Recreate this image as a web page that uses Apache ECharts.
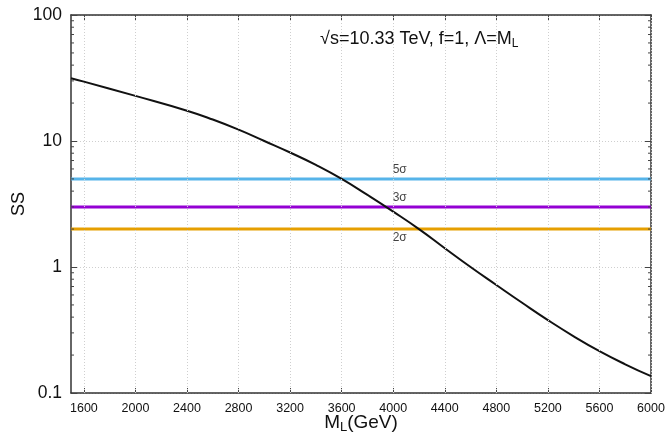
<!DOCTYPE html>
<html>
<head>
<meta charset="utf-8">
<script src="https://cdn.jsdelivr.net/npm/echarts@6/dist/echarts.min.js"></script>
<style>
  html, body { margin: 0; padding: 0; background: #fff; }
  #container { width: 670px; height: 439px; }
</style>
</head>
<body>
<div id="container"></div>
<script>
// curve
let mass = [1500, 1600, 2000, 2400, 2600, 2800, 3000, 3200, 3400, 3600, 3800, 4000, 4200, 4400, 4600, 4800, 5000, 5200, 5400, 5600, 5800, 6000]
let ss = [31.5, 29.6, 22.8, 17.4, 14.8, 12.3, 10.0, 8.1, 6.46, 5.0, 3.73, 2.75, 2.0, 1.41, 1.0, 0.72, 0.52, 0.379, 0.282, 0.215, 0.169, 0.136]

let xTicks = [1600, 2000, 2400, 2800, 3200, 3600, 4000, 4400, 4800, 5200, 5600, 6000]
let sigmaLevels = [5, 3, 2]
let sigmaNames = ['5σ', '3σ', '2σ']
let sigmaColors = ['#56b4e9', '#9400d3', '#e69f00']
let sigmaLabelX = 4050

let xMin = 1500, xMax = 6000, yMin = 0.1, yMax = 100

// minor ticks of the log axis (2..9 in each decade)
let minorTicks = []
for (let d = yMin; d < yMax; d *= 10) {
    for (let k = 2; k <= 9; k++) minorTicks.push(+(d * k).toPrecision(3))
}

let font = 'Liberation Sans'
let series = []

// vertical dotted grid only at the labelled ticks
series.push({
    type: 'line',
    data: [],
    silent: true,
    markLine: {
        silent: true,
        symbol: 'none',
        label: {show: false},
        lineStyle: {color: '#cfcfcf', type: [1, 2], width: 1},
        data: xTicks.map(function (v) { return {xAxis: v} })
    },
    z: 1
})

for (let i = 0; i < sigmaLevels.length; i++) {
    series.push({
        type: 'line',
        data: [[xMin, sigmaLevels[i]], [xMax, sigmaLevels[i]]],
        symbol: 'none',
        lineStyle: {color: sigmaColors[i], width: 3},
        silent: true,
        z: 2
    })
}

series.push({
    type: 'scatter',
    symbolSize: 0,
    silent: true,
    data: sigmaLevels.map(function (v, i) {
        return {
            value: [sigmaLabelX, v],
            name: sigmaNames[i],
            label: {position: i == sigmaLevels.length - 1 ? 'bottom' : 'top', distance: 3}
        }
    }),
    label: {
        show: true,
        formatter: '{b}',
        color: '#111',
        fontSize: 12,
        fontFamily: font
    },
    z: 4
})

series.push({
    type: 'line',
    data: mass.map(function (m, i) { return [m, ss[i]] }),
    smooth: 0.5,
    symbol: 'none',
    lineStyle: {color: '#111', width: 2},
    z: 3
})

// inward minor ticks on left and right frame
series.push({
    type: 'custom',
    silent: true,
    data: minorTicks,
    renderItem: function (params, api) {
        let v = api.value(0)
        let l = api.coord([xMin, v])
        let r = api.coord([xMax, v])
        return {
            type: 'group',
            children: [
                {type: 'line', shape: {x1: l[0], y1: l[1], x2: l[0] + 3, y2: l[1]}, style: {stroke: '#444', lineWidth: 1}},
                {type: 'line', shape: {x1: r[0], y1: r[1], x2: r[0] - 3, y2: r[1]}, style: {stroke: '#444', lineWidth: 1}}
            ]
        }
    },
    encode: {y: 0},
    z: 5
})

let option = {
    animation: false,
    backgroundColor: '#fff',
    title: {
        text: '√s=10.33 TeV, f=1, Λ=M{sub|L}',
        left: 315,
        top: 23,
        textStyle: {
            fontSize: 18,
            fontWeight: 'normal',
            fontFamily: font,
            color: '#111',
            rich: {sub: {fontSize: 12, fontFamily: font, color: '#111', verticalAlign: 'bottom', padding: [10, 0, 0, 0]}}
        }
    },
    grid: {left: 71, right: 19, top: 15, bottom: 46, outerBoundsMode: 'none'},
    xAxis: [{
        type: 'value',
        min: xMin,
        max: xMax,
        name: 'M{sub|L}(GeV)',
        nameLocation: 'middle',
        nameGap: 18,
        nameMoveOverlap: false,
        nameTextStyle: {
            fontSize: 19, fontFamily: font, color: '#111', verticalAlign: 'top',
            rich: {sub: {fontSize: 13, fontFamily: font, color: '#111', padding: [10, 0, 0, 0]}}
        },
        axisLine: {show: true, lineStyle: {color: '#333', width: 1.5}},
        axisTick: {show: true, inside: true, length: 5, customValues: xTicks, lineStyle: {color: '#444'}},
        axisLabel: {
            customValues: xTicks, fontSize: 12.5, fontFamily: font, color: '#111', margin: 9,
            formatter: function (v) { return String(v) }
        },
        splitLine: {show: false}
    }, {
        type: 'value',
        position: 'top',
        min: xMin,
        max: xMax,
        axisLine: {show: true, lineStyle: {color: '#333', width: 1.5}},
        axisTick: {show: true, inside: true, length: 5, customValues: xTicks, lineStyle: {color: '#444'}},
        axisLabel: {show: false},
        splitLine: {show: false}
    }],
    yAxis: [{
        type: 'log',
        logBase: 10,
        min: yMin,
        max: yMax,
        name: 'SS',
        nameLocation: 'middle',
        nameGap: 43,
        nameRotate: 90,
        nameMoveOverlap: false,
        nameTextStyle: {fontSize: 18, fontFamily: font, color: '#111'},
        axisLine: {show: true, lineStyle: {color: '#333', width: 1.5}},
        axisTick: {show: true, inside: true, length: 6, lineStyle: {color: '#444'}},
        axisLabel: {fontSize: 17.5, fontFamily: font, color: '#111', margin: 9},
        splitLine: {show: true, lineStyle: {color: '#cfcfcf', type: [1, 2], width: 1}}
    }, {
        type: 'log',
        logBase: 10,
        min: yMin,
        max: yMax,
        position: 'right',
        axisLine: {show: true, lineStyle: {color: '#333', width: 1.5}},
        axisTick: {show: true, inside: true, length: 6, lineStyle: {color: '#444'}},
        axisLabel: {show: false},
        splitLine: {show: false}
    }],
    series: series
}

let myChart = echarts.init(document.getElementById('container'))
myChart.setOption(option)
</script>
</body>
</html>
